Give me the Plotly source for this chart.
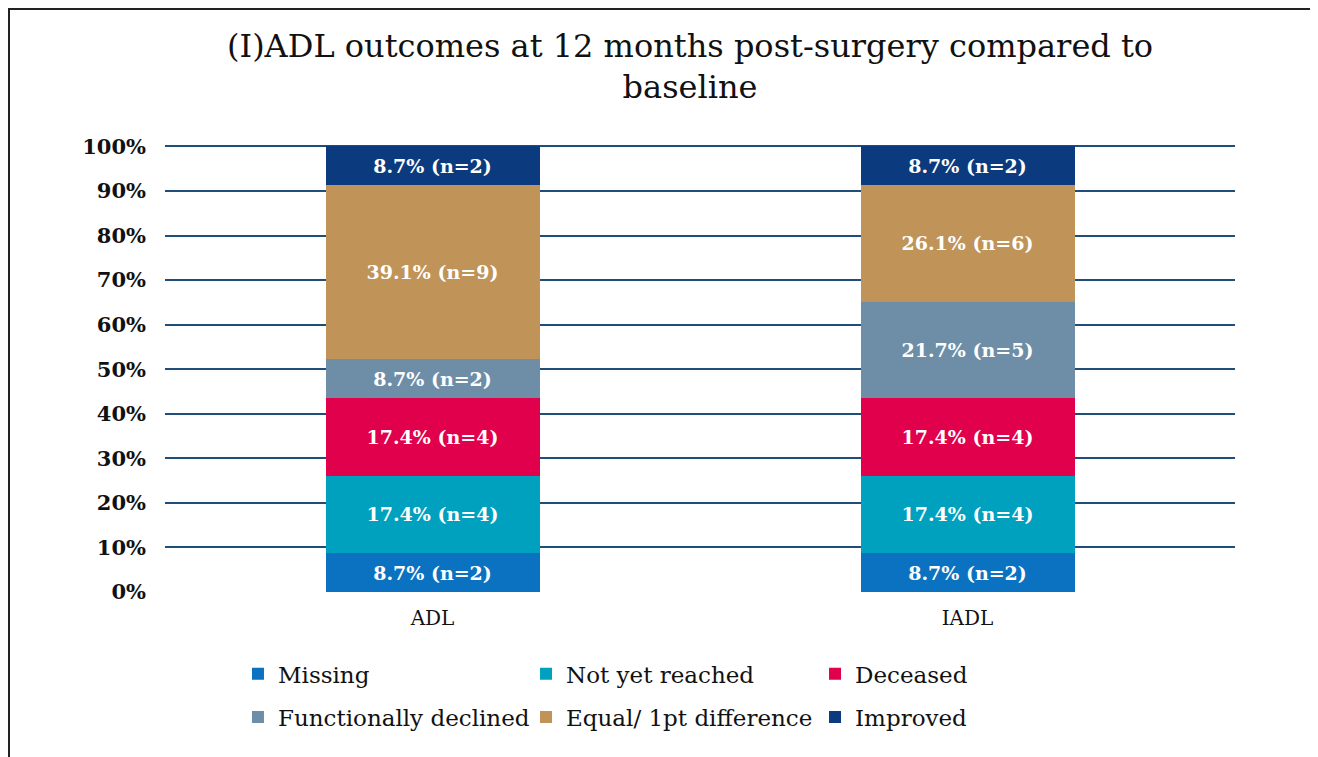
import plotly.graph_objects as go

categories = ["ADL", "IADL"]
series_names = ["Missing", "Not yet reached", "Deceased",
                "Functionally declined", "Equal/ 1pt difference", "Improved"]
pct_values = {
    "Missing": [8.7, 8.7],
    "Not yet reached": [17.4, 17.4],
    "Deceased": [17.4, 17.4],
    "Functionally declined": [8.7, 21.7],
    "Equal/ 1pt difference": [39.1, 26.1],
    "Improved": [8.7, 8.7],
}
n_values = {
    "Missing": [2, 2],
    "Not yet reached": [4, 4],
    "Deceased": [4, 4],
    "Functionally declined": [2, 5],
    "Equal/ 1pt difference": [9, 6],
    "Improved": [2, 2],
}
colors = {
    "Missing": "#0a72c0",
    "Not yet reached": "#00a1bf",
    "Deceased": "#e0004b",
    "Functionally declined": "#6e8ea8",
    "Equal/ 1pt difference": "#c09358",
    "Improved": "#0b3a7e",
}
y_ticks = list(range(0, 101, 10))

SERIF = "'DejaVu Serif', Georgia, serif"

# legend slots: column x (paper), row y (paper)
legend_cols = [0.0682, 0.3374, 0.6075]
legend_rows = [-0.182, -0.278]

fig = go.Figure()
legend_layouts = {}
for i, name in enumerate(series_names):
    labels = [f"{p}% (n={n})" for p, n in zip(pct_values[name], n_values[name])]
    lg_id = "legend" if i == 0 else f"legend{i + 1}"
    fig.add_trace(go.Bar(
        name=name,
        x=categories,
        y=pct_values[name],
        text=labels,
        textposition="inside",
        insidetextanchor="middle",
        textangle=0,
        constraintext="none",
        textfont=dict(family=SERIF, size=19, color="white", weight="bold"),
        marker=dict(color=colors[name], line=dict(width=0)),
        legend=lg_id,
    ))
    legend_layouts[lg_id] = dict(
        orientation="v",
        xanchor="left", yanchor="middle",
        x=legend_cols[i % 3], y=legend_rows[i // 3],
        font=dict(family=SERIF, size=23, color="#111111"),
        itemwidth=30,
        bgcolor="rgba(0,0,0,0)",
    )

fig.update_layout(
    width=1318, height=757,
    margin=dict(l=157, r=91, t=134, b=173),
    paper_bgcolor="white",
    plot_bgcolor="white",
    barmode="stack",
    bargap=0.6,
    title=dict(
        text="(I)ADL outcomes at 12 months post-surgery compared to<br>baseline",
        x=0.5175, xanchor="center", xref="container",
        y=0.9355, yanchor="middle",
        font=dict(family=SERIF, size=32, color="#111111"),
    ),
    showlegend=True,
    **legend_layouts,
)

fig.update_xaxes(
    showgrid=False, showline=False, ticks="",
    ticklabelstandoff=12,
    tickfont=dict(family=SERIF, size=20, color="#111111"),
)
fig.update_yaxes(
    range=[0, 101],
    tickvals=y_ticks,
    ticktext=[f"{v}%" for v in y_ticks],
    showgrid=True, gridcolor="#1f4e79", gridwidth=2,
    zeroline=False,
    showline=False, ticks="",
    ticklabelstandoff=18,
    tickfont=dict(family=SERIF, size=21, color="#111111", weight="bold"),
)

fig.add_shape(type="rect", xref="paper", yref="paper",
              x0=(1 - 157) / 1070, x1=(1304 - 157) / 1070,
              y0=-0.6, y1=(584 - 1) / 450,
              line=dict(color="#222222", width=2), fillcolor="rgba(0,0,0,0)",
              layer="below")

fig.write_html("out.html")
